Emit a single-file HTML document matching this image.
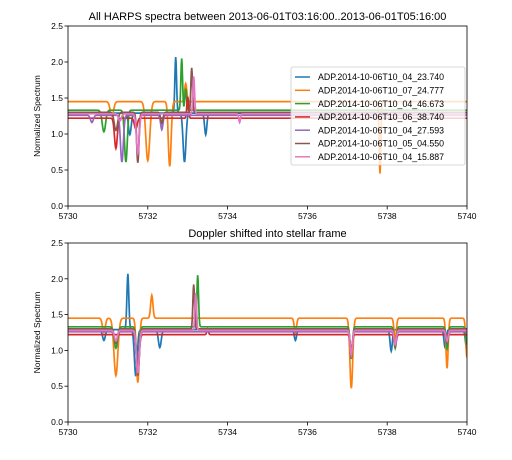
<!DOCTYPE html>
<html><head><meta charset="utf-8"><style>
body{margin:0;background:#fff;font-family:"Liberation Sans","DejaVu Sans",sans-serif}
svg text{font-family:"Liberation Sans","DejaVu Sans",sans-serif}
</style></head><body>
<svg id="chart" width="512" height="455" viewBox="0 0 512 455" xmlns="http://www.w3.org/2000/svg"></svg>
<script>
const labels=["ADP.2014-10-06T10_04_23.740","ADP.2014-10-06T10_07_24.777","ADP.2014-10-06T10_04_46.673","ADP.2014-10-06T10_06_38.740","ADP.2014-10-06T10_04_27.593","ADP.2014-10-06T10_05_04.550","ADP.2014-10-06T10_04_15.887"];
const colors=["#1f77b4","#ff7f0e","#2ca02c","#d62728","#9467bd","#8c564b","#e377c2"];
const baselines=[1.29,1.45,1.33,1.22,1.26,1.3,1.28];
const xTicks=[5730,5732,5734,5736,5738,5740];
const yTicks=[0,0.5,1,1.5,2,2.5];
// features: [center wavelength, amplitude, width]
const topFeatures=[
 [[5732.7,0.78,0.03],[5732.92,-0.68,0.05],[5733.45,-0.3,0.04],[5731.55,-0.3,0.05]],
 [[5732.0,-0.82,0.07],[5732.55,-0.9,0.05],[5737.82,-1.0,0.03],[5732.95,0.25,0.04],[5731.1,-0.2,0.06]],
 [[5732.85,0.72,0.03],[5731.45,-0.72,0.05],[5730.9,-0.3,0.06],[5732.95,0.3,0.03]],
 [[5731.2,-0.42,0.05],[5733.0,0.3,0.03],[5731.7,-0.15,0.05]],
 [[5731.35,-0.65,0.05],[5731.75,-0.6,0.04],[5730.6,-0.1,0.05],[5732.35,-0.2,0.04]],
 [[5731.75,-0.7,0.04],[5731.2,-0.25,0.06],[5733.1,0.62,0.03],[5732.35,-0.15,0.04]],
 [[5733.15,0.52,0.03],[5731.75,-0.55,0.05],[5731.3,-0.1,0.05],[5734.3,-0.12,0.03]]
];
const botFeatures=[
 [[5731.5,0.78,0.035],[5731.7,-0.65,0.05],[5732.3,-0.25,0.05],[5730.9,-0.15,0.05],[5735.7,-0.15,0.04],[5737.1,-0.35,0.04],[5738.1,-0.3,0.04],[5739.45,-0.25,0.04],[5740.0,-0.3,0.05]],
 [[5731.2,-0.8,0.07],[5731.75,-0.9,0.05],[5732.1,0.32,0.04],[5737.1,-0.98,0.05],[5739.5,-0.7,0.04],[5740.0,-0.55,0.04],[5730.9,-0.2,0.05],[5738.2,-0.3,0.04],[5735.7,-0.2,0.04]],
 [[5733.25,0.72,0.03],[5731.2,-0.3,0.06],[5731.75,-0.65,0.05],[5737.1,-0.45,0.04],[5739.5,-0.3,0.04],[5738.2,-0.3,0.04],[5740.0,-0.25,0.04]],
 [[5731.75,-0.45,0.05],[5733.5,0.08,0.03],[5737.1,-0.2,0.04],[5738.2,-0.15,0.04]],
 [[5731.75,-0.6,0.05],[5731.2,-0.15,0.05],[5737.1,-0.3,0.04],[5738.2,-0.2,0.04],[5739.5,-0.15,0.04]],
 [[5733.15,0.62,0.03],[5731.75,-0.65,0.05],[5731.2,-0.2,0.05],[5737.1,-0.4,0.04],[5738.2,-0.25,0.04],[5739.5,-0.2,0.04]],
 [[5733.2,0.52,0.03],[5731.75,-0.6,0.05],[5731.2,-0.15,0.05],[5737.1,-0.35,0.04],[5738.2,-0.2,0.04],[5739.5,-0.15,0.04]]
];
const NS="http://www.w3.org/2000/svg";
const svg=document.getElementById('chart');
function el(t,a,p){const e=document.createElementNS(NS,t);for(const k in a)e.setAttribute(k,a[k]);(p||svg).appendChild(e);return e;}
function panel(top,bottom,title,features,legend,pname){
 const L=68,R=467;
 const g=el('g',{});
 
 
 const xs=v=>L+(v-5730)/10*(R-L);
 const ys=v=>bottom-v/2.5*(bottom-top);
 const clipId='c'+top;
 const cp=el('clipPath',{id:clipId},g);el('rect',{x:L,y:top,width:R-L,height:bottom-top},cp);
 features.forEach((fs,i)=>{
  let d='';
  for(let x=5730;x<=5740.0001;x+=0.01){
   let v=baselines[i];
   fs.forEach(f=>{v+=f[1]*Math.exp(-Math.pow((x-f[0])/f[2],2));});
   d+=(d?'L':'M')+xs(x).toFixed(1)+' '+ys(v).toFixed(1);
  }
  const p=el('path',{d:d,fill:'none',stroke:colors[i],'stroke-width':1.7,'clip-path':'url(#'+clipId+')'},g);
  
  
 });
 el('rect',{x:L,y:top,width:R-L,height:bottom-top,fill:'none',stroke:'#000','stroke-width':0.8},g);
 xTicks.forEach(t=>{el('line',{x1:xs(t),x2:xs(t),y1:bottom,y2:bottom+3.5,stroke:'#000','stroke-width':0.8},g);
  const tx=el('text',{x:xs(t),y:bottom+13,'font-size':8.5,'text-anchor':'middle'},g);tx.textContent=t;
  });
 yTicks.forEach(t=>{el('line',{x1:L-3.5,x2:L,y1:ys(t),y2:ys(t),stroke:'#000','stroke-width':0.8},g);
  const tx=el('text',{x:L-5,y:ys(t)+3,'font-size':8.5,'text-anchor':'end'},g);tx.textContent=t.toFixed(1);
  });
 const tt=el('text',{x:(L+R)/2,y:top-6,'font-size':11,'text-anchor':'middle'},g);tt.textContent=title;
 
 const yl=el('text',{x:0,y:0,'font-size':8.5,'text-anchor':'middle',transform:`translate(40,${(top+bottom)/2}) rotate(-90)`},g);yl.textContent='Normalized Spectrum';
 
 if(legend){
  const lg=el('g',{},g);
  
  el('rect',{x:291,y:67,width:174,height:98,rx:2,fill:'#fff','fill-opacity':0.8,stroke:'#ccc','stroke-width':0.8},lg);
  labels.forEach((s,i)=>{const y=74+i*13.3+3;
   el('line',{x1:295,x2:310,y1:y,y2:y,stroke:colors[i],'stroke-width':1.5},lg);
   const t=el('text',{x:318,y:y+3.2,'font-size':8.8},lg);t.textContent=s;
   });
 }
}
panel(26,206,'All HARPS spectra between 2013-06-01T03:16:00..2013-06-01T05:16:00',topFeatures,true,'top-panel');
panel(243,422,'Doppler shifted into stellar frame',botFeatures,false,'bottom-panel');
</script>
</body></html>
